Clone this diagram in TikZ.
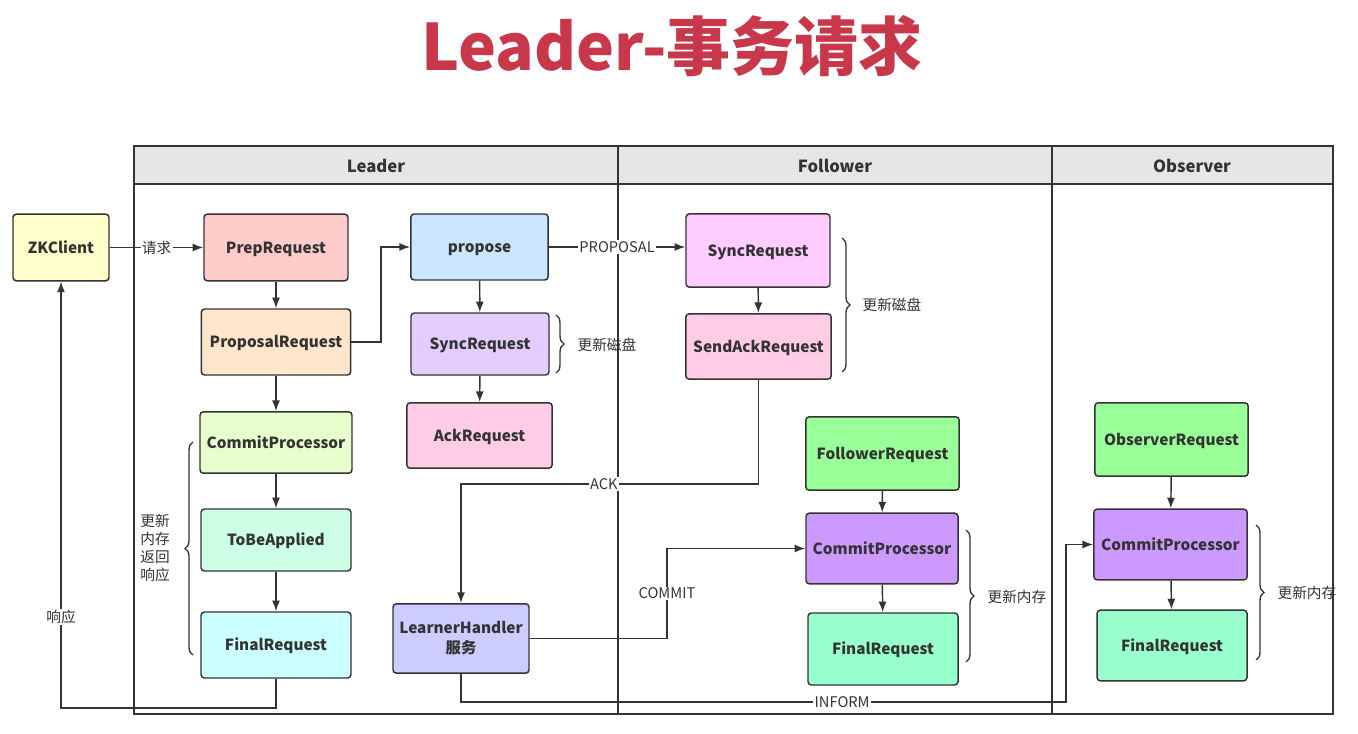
\documentclass[tikz,border=0pt]{standalone}
\usepackage{fontspec}
\setmainfont{Noto Sans CJK SC}
\usetikzlibrary{arrows.meta,decorations.pathreplacing,calc}
\definecolor{ln}{HTML}{333333}
\definecolor{ttl}{HTML}{C8374A}
\definecolor{hdr}{HTML}{E6E6E6}
\definecolor{cZK}{HTML}{FFFFCC}
\definecolor{cPrep}{HTML}{FFCCCC}
\definecolor{cProp}{HTML}{FFE6CC}
\definecolor{cCommitL}{HTML}{E6FFCC}
\definecolor{cToBe}{HTML}{CCFFE6}
\definecolor{cFinalL}{HTML}{CCFFFF}
\definecolor{cPropose}{HTML}{CCE5FF}
\definecolor{cSyncL}{HTML}{E5CCFF}
\definecolor{cAck}{HTML}{FFCCE6}
\definecolor{cLearner}{HTML}{CCCCFF}
\definecolor{cSyncF}{HTML}{FFCCFF}
\definecolor{cGreen}{HTML}{99FF99}
\definecolor{cPurple}{HTML}{CC99FF}
\definecolor{cMint}{HTML}{99FFCC}
\tikzset{
  boxbase/.style={draw=ln, line width=1.1pt, rounded corners=2.5pt, text=ln, align=center,
    font=\bfseries\fontsize{11.5}{15}\selectfont, inner sep=2pt},
  box/.style={boxbase, text height=8.4pt, text depth=0pt},
  conn/.style={draw=ln, line width=1.1pt},
  arr/.style={conn, -{Latex[length=8pt,width=6pt]}},
  lbl/.style={fill=white, inner sep=1pt, text=ln, font=\fontsize{11}{13}\selectfont},
  note/.style={text=ln, font=\fontsize{11}{13.5}\selectfont, align=center, inner sep=1pt},
  brc/.style={draw=ln, line width=1pt, decorate, decoration={brace, amplitude=6pt}},
  lane/.style={draw=ln, line width=1.4pt},
  hdrtxt/.style={text=ln, font=\bfseries\fontsize{12.5}{15}\selectfont}
}
\begin{document}
\begin{tikzpicture}[x=0.75pt,y=-0.75pt]
\useasboundingbox (0,0) rectangle (1358,734);
\fill[white] (0,0) rectangle (1358,734);

% title
\node[text=ttl, font=\bfseries\fontsize{48}{52}\selectfont] (title) at (672,46) {Leader-事务请求};

% swimlanes
\fill[hdr] (134,146) rectangle (1333,184);
\draw[lane] (134,146) rectangle (1333,714);
\draw[lane] (134,184) -- (1333,184);
\draw[lane] (618,146) -- (618,714);
\draw[lane] (1052,146) -- (1052,714);
\node[hdrtxt] (hL) at (376,166) {Leader};
\node[hdrtxt] (hF) at (835,166) {Follower};
\node[hdrtxt] (hO) at (1192,166) {Observer};

% nodes
\node[box, fill=cZK, minimum width=72pt, minimum height=50pt] (zk) at (61,247.5) {ZKClient};
\node[box, fill=cPrep, minimum width=108pt, minimum height=50pt] (prep) at (276,247.5) {PrepRequest};
\node[box, fill=cProp, minimum width=112pt, minimum height=49.5pt] (propR) at (276,342) {ProposalRequest};
\node[box, fill=cCommitL, minimum width=114pt, minimum height=46pt] (commitL) at (276,442.5) {CommitProcessor};
\node[box, fill=cToBe, minimum width=112.5pt, minimum height=46.5pt] (tobe) at (276,540) {ToBeApplied};
\node[box, fill=cFinalL, minimum width=112.5pt, minimum height=49.5pt] (finalL) at (276,645) {FinalRequest};
\node[box, fill=cPropose, minimum width=103pt, minimum height=49.5pt] (propose) at (479.5,247) {propose};
\node[box, fill=cSyncL, minimum width=103.5pt, minimum height=46.5pt] (syncL) at (480,344) {SyncRequest};
\node[box, fill=cAck, minimum width=109pt, minimum height=49pt] (ack) at (479.5,435.5) {AckRequest};
\node[boxbase, fill=cLearner, minimum width=102pt, minimum height=52pt] (learner) at (461,638.5) {LearnerHandler\\服务};
\node[box, fill=cSyncF, minimum width=108pt, minimum height=55pt] (syncF) at (758,250.5) {SyncRequest};
\node[box, fill=cAck, minimum width=109pt, minimum height=49pt] (sendack) at (758.5,346.5) {SendAckRequest};
\node[box, fill=cGreen, minimum width=115pt, minimum height=55pt] (folReq) at (882.5,453.5) {FollowerRequest};
\node[box, fill=cPurple, minimum width=114pt, minimum height=53pt] (commitF) at (882,548.5) {CommitProcessor};
\node[box, fill=cMint, minimum width=112.5pt, minimum height=54pt] (finalF) at (883,649) {FinalRequest};
\node[box, fill=cGreen, minimum width=115pt, minimum height=55pt] (obsReq) at (1171.5,439.5) {ObserverRequest};
\node[box, fill=cPurple, minimum width=115pt, minimum height=53pt] (commitO) at (1170.5,544.5) {CommitProcessor};
\node[box, fill=cMint, minimum width=112.5pt, minimum height=53pt] (finalO) at (1172,645.5) {FinalRequest};

% helper coordinates
\coordinate (j1) at (381,342);
\coordinate (r1) at (276,708);
\coordinate (ackc) at (461,484);
\coordinate (cm) at (667,640);
\coordinate (inf1) at (461,702);
\coordinate (inf2) at (1066,702);

% connectors
\draw[arr] (zk.east) -- node[lbl]{请求} (prep.west);
\draw[arr] (prep) -- (propR);
\draw[arr] (propR.east) -- (j1) |- (propose.west);
\draw[arr] (propose.east) -- node[lbl]{PROPOSAL} (propose.east -| syncF.west);
\draw[arr] (propose) -- (syncL);
\draw[arr] (syncL) -- (ack);
\draw[arr] (propR) -- (commitL);
\draw[arr] (commitL) -- (tobe);
\draw[arr] (tobe) -- (finalL);
\draw[arr] (finalL.south) -- (r1) -| node[lbl, pos=0.607]{响应} (zk.south);
\draw[arr] (syncF) -- (sendack);
\draw[arr] (sendack.south) |- node[lbl, pos=0.76]{ACK} (ackc) -- (learner.north);
\draw[arr] (learner.east) -- (learner.east -| cm) |- node[lbl, pos=0.25]{COMMIT} (commitF.west);
\draw[arr] (folReq) -- (commitF);
\draw[arr] (commitF) -- (finalF);
\draw[arr] (learner.south) -- (inf1) -- node[lbl, pos=0.63]{INFORM} (inf2) |- (commitO.west);
\draw[arr] (obsReq) -- (commitO);
\draw[arr] (commitO) -- (finalO);

% braces
\draw[brc] (556,315) -- (556,373);
\node[note, anchor=west] (n1) at (576,345) {更新磁盘};
\draw[brc] (193,655) -- (193,442);
\node[note] (n2) at (155,548) {更新\\内存\\返回\\响应};
\draw[brc] (842,238) -- (842,372);
\node[note, anchor=west] (n3) at (861,305) {更新磁盘};
\draw[brc] (966,530) -- (966,662);
\node[note, anchor=west] (n4) at (986,597) {更新内存};
\draw[brc] (1256,525) -- (1256,660);
\node[note, anchor=west] (n5) at (1276,593) {更新内存};
\end{tikzpicture}
\end{document}
